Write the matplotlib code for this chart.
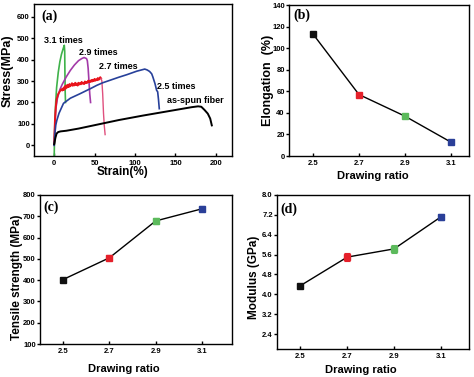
import numpy as np
import matplotlib
matplotlib.use("Agg")
import matplotlib.pyplot as plt

plt.rcParams["font.family"] = ["Liberation Sans", "DejaVu Sans"]
plt.rcParams["font.weight"] = "bold"

# ---- (a) stress-strain curves (strain %, stress MPa) ----
green_x = [0, 0.5, 1, 2, 3, 5, 7, 9, 11, 12.5, 13, 13.3, 13.6, 14]
green_y = [-50, 50, 130, 210, 270, 340, 390, 425, 450, 467, 440, 330, 250, 200]

purple_x = [0, 1, 2, 4, 7, 10, 15, 20, 25, 30, 34, 37, 40, 41, 42, 43, 44, 45]
purple_y = [0, 100, 170, 220, 260, 285, 320, 350, 375, 395, 405, 410, 405, 395, 360, 300, 240, 200]

red_x = [0, 1, 2, 3, 5, 7, 9, 10, 11, 12, 13, 14, 15, 16, 17, 18, 19, 20, 21, 22, 23, 24, 25,
         26, 27, 28, 29, 30, 31, 32, 33, 34, 35, 36, 37, 38, 39, 40, 41, 42, 43, 44, 45,
         46, 47, 48, 49, 50, 51, 52, 53, 54, 55, 56, 57, 58]
red_y = [10, 120, 180, 215, 240, 252, 262, 256, 266, 258, 275, 264, 280, 270, 283, 272, 286, 276,
         282, 290, 278, 286, 280, 292, 282, 288, 279, 292, 284, 290, 285, 296, 288, 292, 286, 298,
         290, 296, 292, 302, 295, 300, 296, 305, 298, 306, 300, 310, 302, 308, 304, 314, 306,
         312, 318, 312]
pink_x = [58, 59, 60, 61, 62, 63]
pink_y = [312, 300, 240, 150, 90, 50]

blue_x = [0, 1, 2, 3.3, 6, 11.5, 20, 32, 45, 52.7, 60, 70, 80, 90, 102, 108, 112, 115, 118,
          120.6, 122, 124.7, 126.7, 128, 129, 130]
blue_y = [0, 60, 95, 117, 150, 196, 220, 241, 265, 280, 292, 305, 318, 330, 346, 352, 356, 352,
          345, 334, 320, 288, 257, 250, 215, 171]

black_x = [0, 1.5, 3, 5, 8, 15, 30, 50, 80, 110, 150, 170, 178, 182, 186, 190, 193, 195]
black_y = [5, 35, 55, 62, 65, 68, 78, 94, 118, 139, 165, 178, 182, 180, 165, 148, 125, 93]

# ---- (b)-(d) vs drawing ratio ----
ratio = [2.5, 2.7, 2.9, 3.1]
ratio_labels = ["2.5", "2.7", "2.9", "3.1"]
elongation = [113, 57, 37, 13]
elongation_err = [1.5, 1.5, 1.5, 1.5]
strength = [403, 505, 678, 735]
strength_err = [6, 12, 15, 12]
modulus = [4.35, 5.5, 5.83, 7.12]
modulus_err = [0.06, 0.15, 0.15, 0.12]
point_colors = ["#111111", "#e5202a", "#5cba5c", "#2a3f98"]


def style_axes(ax):
    ax.tick_params(axis="x", direction="in", length=2, width=1, labelsize=5.5, pad=3,
                   top=False)
    ax.tick_params(axis="y", direction="out", length=2, width=1, labelsize=5.5, pad=1,
                   right=False)
    for lab in ax.get_xticklabels() + ax.get_yticklabels():
        lab.set_fontweight("bold")
    for s in ax.spines.values():
        s.set_linewidth(1.0)


def place_labels(ax, xlab, ylab, xsize, ysize, xpos, ypos):
    ax.set_xlabel(xlab, fontsize=xsize, fontweight="bold")
    ax.set_ylabel(ylab, fontsize=ysize, fontweight="bold")
    ax.xaxis.set_label_coords(*xpos)
    ax.yaxis.set_label_coords(*ypos)
    ax.xaxis.label.set_verticalalignment("center")
    ax.yaxis.label.set_verticalalignment("center")


def ratio_panel(ax, y, yerr, tag, tagpos, xlim, ylim, yticks, fmt):
    ax.plot(ratio, y, color="black", lw=1.0, zorder=2)
    for xi, yi, ei, c in zip(ratio, y, yerr, point_colors):
        ax.errorbar(xi, yi, yerr=ei, fmt="s", color=c, ms=4.5, capsize=2,
                    elinewidth=0.8, capthick=0.8, zorder=3)
    ax.set_xlim(*xlim)
    ax.set_ylim(*ylim)
    ax.set_xticks(ratio)
    ax.set_xticklabels(ratio_labels)
    ax.set_yticks(yticks)
    ax.set_yticklabels([fmt.format(t) for t in yticks])
    ax.text(tagpos[0], tagpos[1], tag, transform=ax.transAxes, fontsize=10,
            fontweight="bold", family="Liberation Serif", va="center")
    style_axes(ax)


fig = plt.figure(figsize=(4.74, 3.77), dpi=100)
ax_a = fig.add_axes([0.0717, 0.5862, 0.4178, 0.4032])
ax_b = fig.add_axes([0.6097, 0.5862, 0.3798, 0.4005])
ax_c = fig.add_axes([0.0844, 0.0875, 0.4051, 0.3953])
ax_d = fig.add_axes([0.5844, 0.0743, 0.4051, 0.4085])

# (a)
ax_a.plot(green_x, green_y, color="#3fb24a", lw=1.2)
ax_a.plot(purple_x, purple_y, color="#a33aa8", lw=1.2)
ax_a.plot(red_x, red_y, color="#e8141c", lw=1.4)
ax_a.plot(pink_x, pink_y, color="#e0507e", lw=1.0)
ax_a.plot(blue_x, blue_y, color="#27409a", lw=1.2)
ax_a.plot(black_x, black_y, color="black", lw=1.4)
ax_a.set_xlim(-25, 220)
ax_a.set_ylim(-50, 660)
ax_a.set_xticks([0, 50, 100, 150, 200])
ax_a.set_yticks([0, 100, 200, 300, 400, 500, 600])
place_labels(ax_a, "Strain(%)", "Stress(MPa)", 8.5, 9, (0.447, -0.105), (-0.131, 0.56))
labels_a = [("3.1 times", -12, 490), ("2.9 times", 31, 434), ("2.7 times", 55, 369),
            ("2.5 times", 127, 275), ("as-spun fiber", 140, 210)]
for txt, lx, ly in labels_a:
    ax_a.text(lx, ly, txt, fontsize=6.5, fontweight="bold", va="center")
ax_a.text(0.035, 0.92, "(a)", transform=ax_a.transAxes, fontsize=10,
          fontweight="bold", family="Liberation Serif", va="center")
style_axes(ax_a)

ratio_panel(ax_b, elongation, elongation_err, "(b)", (0.026, 0.93),
            (2.395, 3.18), (0, 140), list(range(0, 141, 20)), "{:d}")
place_labels(ax_b, "Drawing ratio", "Elongation  (%)", 8, 9, (0.466, -0.13), (-0.119, 0.503))

ratio_panel(ax_c, strength, strength_err, "(c)", (0.02, 0.92),
            (2.4, 3.23), (100, 800), list(range(100, 801, 100)), "{:d}")
place_labels(ax_c, "Drawing ratio", "Tensile strength (MPa)", 8, 8.5, (0.4375, -0.168), (-0.12, 0.45))

ratio_panel(ax_d, modulus, modulus_err, "(d)", (0.02, 0.905),
            (2.4, 3.22), (1.8, 8.0), [2.4, 3.2, 4.0, 4.8, 5.6, 6.4, 7.2, 8.0], "{:.1f}")
place_labels(ax_d, "Drawing ratio", "Modulus (GPa)", 8, 8.5, (0.4375, -0.136), (-0.12, 0.464))

fig.savefig("out.png", dpi=100)
